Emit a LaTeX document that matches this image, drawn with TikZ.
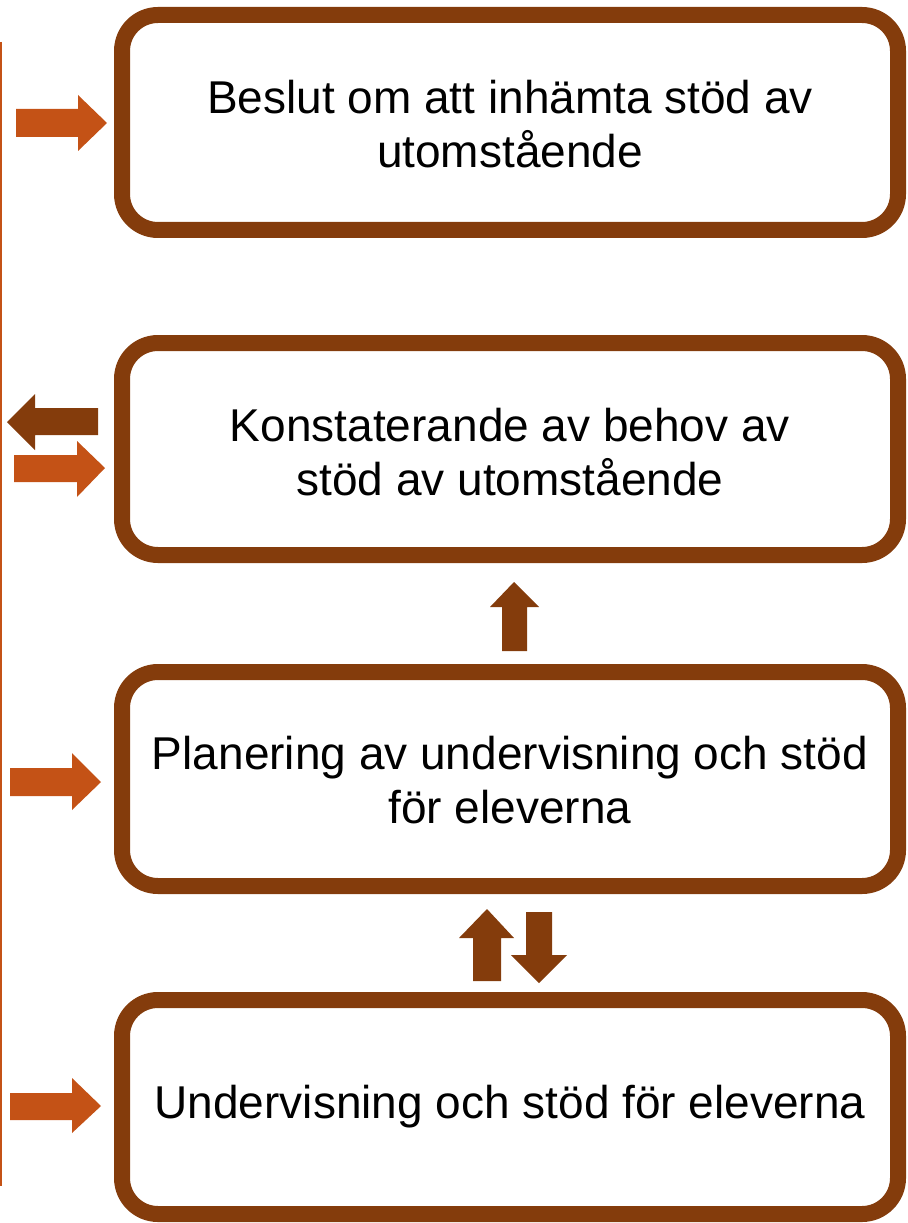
\documentclass[tikz,border=0pt]{standalone}
\usepackage{fontspec}
\setmainfont{Liberation Sans}
\usepackage{tikz}
\usetikzlibrary{calc}
\usetikzlibrary{positioning}

\definecolor{stepbrown}{RGB}{132,60,12}
\definecolor{steporange}{RGB}{196,82,22}

\tikzset{
  stepbox/.style={draw=stepbrown, line width=12pt, rounded corners=27pt},
  steptext/.style={inner sep=0.75pt, align=center, font=\fontsize{34.5}{41}\selectfont},
  arrowin/.style={fill=steporange, draw=none},
  arrowout/.style={fill=stepbrown, draw=none}
}

\begin{document}
\begin{tikzpicture}[x=0.75pt,y=0.75pt,yscale=-1,xscale=1]
                  \useasboundingbox (0,0) rectangle (907,1223);

                  %Straight Lines
                  \draw [color=steporange, line width=1.5]  (1,42) -- (1,1186) ;

                  %Rounded Rect
                  \draw [stepbox]  (122,15) rectangle (898,230) ;
                  %Rounded Rect
                  \draw [stepbox]  (122,343) rectangle (898,555) ;
                  %Rounded Rect
                  \draw [stepbox]  (122,672) rectangle (898,886) ;
                  %Rounded Rect
                  \draw [stepbox]  (122,1000) rectangle (898,1214) ;

                  %Right Arrow
                  \draw [arrowin]  (16,109) -- (78,109) -- (78,95) -- (107,123) -- (78,151) -- (78,137) -- (16,137) -- cycle ;
                  %Left Arrow
                  \draw [arrowout]  (98,408) -- (35,408) -- (35,394) -- (7,422) -- (35,450) -- (35,435) -- (98,435) -- cycle ;
                  %Right Arrow
                  \draw [arrowin]  (14,455) -- (77,455) -- (77,441) -- (105,468) -- (77,497) -- (77,482) -- (14,482) -- cycle ;
                  %Right Arrow
                  \draw [arrowin]  (10,768) -- (72,768) -- (72,753) -- (101,782) -- (72,810) -- (72,796) -- (10,796) -- cycle ;
                  %Right Arrow
                  \draw [arrowin]  (10,1093) -- (72,1093) -- (72,1078) -- (101,1106) -- (72,1133) -- (72,1120) -- (10,1120) -- cycle ;

                  %Up Arrow
                  \draw [arrowout]  (502,651) -- (502,607) -- (490,607) -- (514,582) -- (539,607) -- (527,607) -- (527,651) -- cycle ;
                  %Up Arrow
                  \draw [arrowout]  (473,981) -- (473,938) -- (459,938) -- (487,909) -- (514,938) -- (501,938) -- (501,981) -- cycle ;
                  %Down Arrow
                  \draw [arrowout]  (526,912) -- (526,955) -- (511,955) -- (539,983) -- (567,955) -- (552,955) -- (552,912) -- cycle ;

                  % Text Node
                  \node (beslut) at (510,124) [steptext] {Beslut om att inhämta stöd av\\utomstående};
                  % Text Node
                  \node (konstaterande) at (510,452) [steptext] {Konstaterande av behov av\\stöd av utomstående};
                  % Text Node
                  \node (planering) at (510,780) [steptext] {Planering av undervisning och stöd\\för eleverna};
                  % Text Node
                  \node (undervisning) at (510,1107) [steptext] {Undervisning och stöd för eleverna};

              \end{tikzpicture}
\end{document}
